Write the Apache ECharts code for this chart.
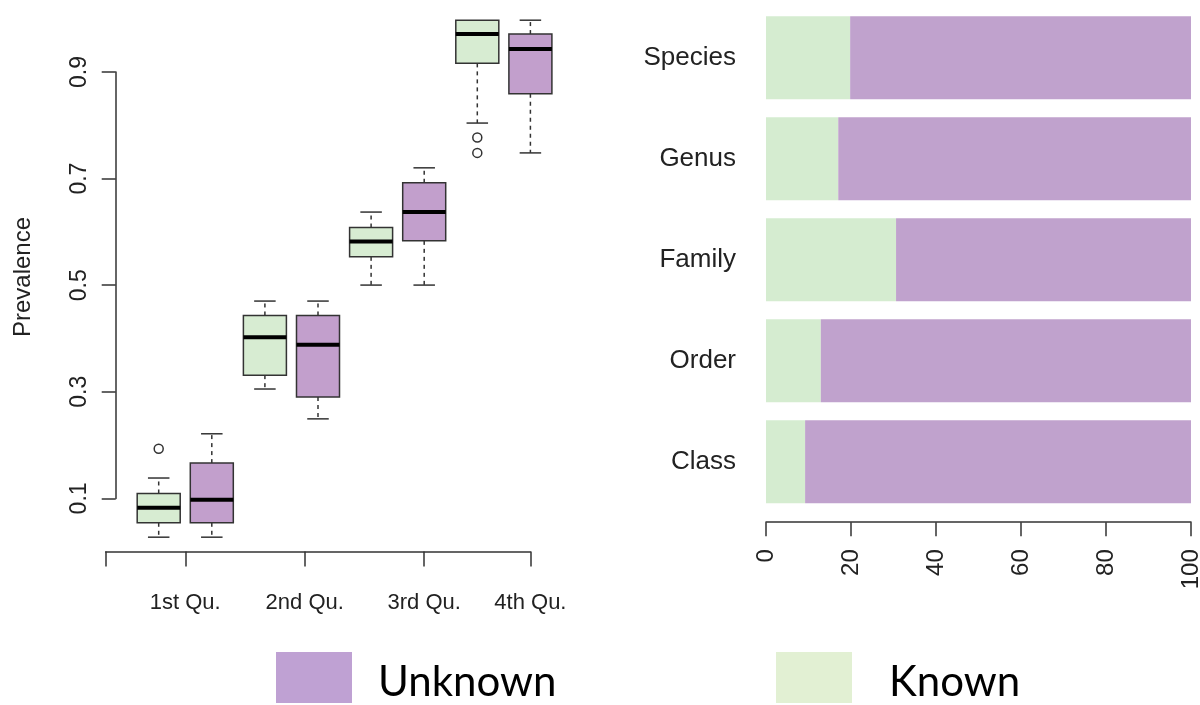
<!DOCTYPE html>
<html>
<head>
<meta charset="utf-8">
<script src="https://cdn.jsdelivr.net/npm/echarts@6/dist/echarts.min.js"></script>
<style>
html,body{margin:0;padding:0;background:#fff;}
#chart{width:1200px;height:705px;}
</style>
</head>
<body>
<div id="chart"></div>
<script>
// ---------- Left panel: prevalence box plots ----------
const groups = ['1st Qu.', '2nd Qu.', '3rd Qu.', '4th Qu.'];
// [min, Q1, median, Q3, max]
const knownStats = [
  [0.027, 0.054, 0.082, 0.109, 0.138],
  [0.305, 0.331, 0.402, 0.443, 0.470],
  [0.500, 0.553, 0.582, 0.608, 0.637],
  [0.804, 0.916, 0.971, 0.997, 0.997]
];
const unknownStats = [
  [0.027, 0.054, 0.097, 0.166, 0.221],
  [0.249, 0.290, 0.388, 0.443, 0.470],
  [0.500, 0.583, 0.637, 0.692, 0.720],
  [0.748, 0.859, 0.943, 0.971, 0.997]
];
// [group index, value]
const knownOutliers = [[0, 0.193], [3, 0.777], [3, 0.748]];
const xTickValues = [0, 1.5, 3.75, 6, 8];
const xLabelValues = [1.5, 3.75, 6, 8];
const yTickValues = [0.1, 0.3, 0.5, 0.7, 0.9];
const yAxisTitle = 'Prevalence';

// ---------- Right panel: known / unknown stacked bars ----------
const taxa = ['Class', 'Order', 'Family', 'Genus', 'Species'];
const knownPct = [9.2, 12.9, 30.6, 17.0, 19.8];
const unknownPct = [90.8, 87.1, 69.4, 83.0, 80.2];
const legendNames = ['Unknown', 'Known'];

const GREEN = '#d7ecd2', PURPLE = '#c29fcc';
const BAR_GREEN = '#d5ecd0', BAR_PURPLE = '#c0a2cd';
const AXIS = '#333';
const FONT = 'Liberation Sans';

function boxData(stats, offset) {
  return stats.map((s, i) => [2 * i + offset].concat(s));
}

function makeRender(fill) {
  return function (params, api) {
    const x = api.value(0);
    const c = v => api.coord([x, v]);
    const pMin = c(api.value(1)), pQ1 = c(api.value(2)), pMed = c(api.value(3)),
          pQ3 = c(api.value(4)), pMax = c(api.value(5));
    const band = api.size([1, 0])[0];
    const hw = band * 0.405, cw = hw * 0.5, cx = pMin[0];
    const children = [];
    const dashStyle = { stroke: AXIS, lineWidth: 1.5, lineDash: [4, 4] };
    const solid = { stroke: AXIS, lineWidth: 1.5 };
    if (pQ3[1] - pMax[1] > 1) {
      children.push({ type: 'line', shape: { x1: cx, y1: pQ3[1], x2: cx, y2: pMax[1] }, style: dashStyle });
      children.push({ type: 'line', shape: { x1: cx - cw, y1: pMax[1], x2: cx + cw, y2: pMax[1] }, style: solid });
    }
    if (pMin[1] - pQ1[1] > 1) {
      children.push({ type: 'line', shape: { x1: cx, y1: pQ1[1], x2: cx, y2: pMin[1] }, style: dashStyle });
      children.push({ type: 'line', shape: { x1: cx - cw, y1: pMin[1], x2: cx + cw, y2: pMin[1] }, style: solid });
    }
    children.push({ type: 'rect', shape: { x: cx - hw, y: pQ3[1], width: 2 * hw, height: pQ1[1] - pQ3[1] },
      style: { fill: fill, stroke: AXIS, lineWidth: 1.5 } });
    children.push({ type: 'line', shape: { x1: cx - hw, y1: pMed[1], x2: cx + hw, y2: pMed[1] },
      style: { stroke: '#000', lineWidth: 4 } });
    return { type: 'group', children: children };
  };
}

function renderOutlier(params, api) {
  const p = api.coord([api.value(0), api.value(1)]);
  return { type: 'circle', shape: { cx: p[0], cy: p[1], r: 4.5 },
    style: { fill: 'none', stroke: AXIS, lineWidth: 1.5 } };
}

const chart = echarts.init(document.getElementById('chart'), null, { renderer: 'canvas' });

const option = {
  backgroundColor: '#fff',
  animation: false,
  textStyle: { fontFamily: FONT },
  grid: [
    { left: 105.6, width: 424.8, top: 18.6, height: 538.3, outerBoundsMode: 'none', containLabel: false },
    { left: 115.7, width: 2, top: 72, height: 426.4, outerBoundsMode: 'none', containLabel: false },
    { left: 766, width: 425, top: 7.2, height: 505, outerBoundsMode: 'none', containLabel: false }
  ],
  xAxis: [
    {
      type: 'value', gridIndex: 0, min: 0, max: 8,
      axisLine: { show: true, lineStyle: { color: AXIS, width: 1.5 } },
      axisTick: { show: true, length: 15, customValues: xTickValues, lineStyle: { color: AXIS, width: 1.5 } },
      axisLabel: {
        show: true, customValues: xLabelValues, margin: 35, fontSize: 22, color: '#222', fontFamily: FONT,
        formatter: v => groups[xLabelValues.indexOf(v)] || ''
      },
      splitLine: { show: false }
    },
    { type: 'value', gridIndex: 1, show: false, min: 0, max: 1 },
    {
      type: 'value', gridIndex: 2, min: 0, max: 100, interval: 20, offset: 10,
      axisLine: { show: true, lineStyle: { color: AXIS, width: 1.5 } },
      axisTick: { show: true, length: 14, lineStyle: { color: AXIS, width: 1.5 } },
      axisLabel: { rotate: 90, margin: 27, fontSize: 24, color: '#222', fontFamily: FONT },
      splitLine: { show: false }
    }
  ],
  yAxis: [
    { type: 'value', gridIndex: 0, show: false, min: -0.01, max: 1.0 },
    {
      type: 'value', gridIndex: 1, min: 0.1, max: 0.9,
      axisLine: { show: true, lineStyle: { color: AXIS, width: 1.5 } },
      axisTick: { show: true, length: 14, customValues: yTickValues, lineStyle: { color: AXIS, width: 1.5 } },
      axisLabel: {
        show: true, customValues: yTickValues, rotate: 90, margin: 25, fontSize: 23, color: '#222', fontFamily: FONT,
        formatter: v => v.toFixed(1)
      },
      splitLine: { show: false }
    },
    {
      type: 'category', gridIndex: 2, data: taxa,
      axisLine: { show: false }, axisTick: { show: false },
      axisLabel: { margin: 30, fontSize: 26, color: '#222', fontFamily: FONT }
    }
  ],
  legend: [
    {
      data: [{ name: legendNames[0], itemStyle: { color: '#bfa1d3' } }],
      left: 276, top: 652, padding: 0, icon: 'rect', itemWidth: 76, itemHeight: 51,
      selectedMode: false, formatter: '{t|{name}}',
      textStyle: {
        fontFamily: 'Lato', fontSize: 42, color: '#000', padding: [0, 0, 0, 21],
        rich: { t: { fontFamily: 'Lato', fontSize: 42, color: '#000', padding: [10, 0, 0, 0] } }
      }
    },
    {
      data: [{ name: legendNames[1], itemStyle: { color: '#e2f0d3' } }],
      left: 776, top: 652, padding: 0, icon: 'rect', itemWidth: 76, itemHeight: 51,
      selectedMode: false, formatter: '{t|{name}}',
      textStyle: {
        fontFamily: 'Lato', fontSize: 42, color: '#000', padding: [0, 0, 0, 32],
        rich: { t: { fontFamily: 'Lato', fontSize: 42, color: '#000', padding: [10, 0, 0, 0] } }
      }
    }
  ],
  graphic: [
    {
      type: 'text', x: 23, y: 277, rotation: Math.PI / 2,
      style: { text: yAxisTitle, font: '24px "Liberation Sans"', fill: '#222', align: 'center', verticalAlign: 'middle' }
    }
  ],
  series: [
    {
      name: 'Known box', type: 'custom', xAxisIndex: 0, yAxisIndex: 0,
      data: boxData(knownStats, 1), encode: { x: 0, y: [1, 2, 3, 4, 5] },
      renderItem: makeRender(GREEN)
    },
    {
      name: 'Unknown box', type: 'custom', xAxisIndex: 0, yAxisIndex: 0,
      data: boxData(unknownStats, 2), encode: { x: 0, y: [1, 2, 3, 4, 5] },
      renderItem: makeRender(PURPLE)
    },
    {
      name: 'Outliers', type: 'custom', xAxisIndex: 0, yAxisIndex: 0,
      data: knownOutliers.map(o => [2 * o[0] + 1, o[1]]), encode: { x: 0, y: 1 },
      renderItem: renderOutlier
    },
    {
      name: 'Known', type: 'bar', stack: 'tot', xAxisIndex: 2, yAxisIndex: 2,
      barWidth: 83, itemStyle: { color: BAR_GREEN }, data: knownPct
    },
    {
      name: 'Unknown', type: 'bar', stack: 'tot', xAxisIndex: 2, yAxisIndex: 2,
      barWidth: 83, itemStyle: { color: BAR_PURPLE }, data: unknownPct
    }
  ]
};
chart.setOption(option);
</script>
</body>
</html>
